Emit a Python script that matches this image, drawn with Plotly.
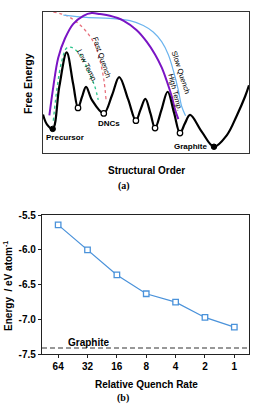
import plotly.graph_objects as go

W, H = 253, 404
FONT = "Liberation Sans, Arial, sans-serif"
SERIF = "Liberation Serif, Times New Roman, serif"

# ---------------- panel (a): schematic free-energy landscape (arbitrary units 0-100) ----------
land_x = [0, 1.9, 4.7, 7.9, 11.5, 14.6, 17.0, 18.9, 20.9, 23.8, 29.5, 33.5, 37.0, 41.3, 45.1, 47.3,
          49.7, 52.2, 54.4, 57.5, 60.5, 63.6, 66.5, 68.9, 71.4, 77.2, 83.0, 89.2, 94.0, 98.1, 100]
land_y = [27, 20.0, 16.8, 46.7, 71.2, 49.0, 31.7, 39.3, 46.7, 37.2, 27.8, 40.7, 53.6, 37.9, 22.6, 30.3,
          38.1, 27.6, 17.4, 30.3, 43.2, 28.3, 13.8, 20.7, 26.7, 14.5, 4.1, 12.2, 26.0, 39.8, 47.8]

open_min_x = [17.0, 29.5, 45.1, 54.4, 66.5]
open_min_y = [31.7, 27.8, 22.6, 17.4, 13.8]
stable_x = [4.7, 83.0]
stable_y = [16.8, 4.1]

high_x = [3.1, 5.0, 7.4, 10.7, 14.7, 19.6, 23.6, 27.7, 32.5, 39.0, 45.5, 50.3, 54.4, 57.6, 60.0, 62.5, 64.1, 65.7]
high_y = [26.4, 46.7, 67.4, 81.2, 91.5, 97.2, 99.1, 98.4, 97.2, 93.8, 86.9, 78.8, 69.7, 60.5, 51.2, 39.8, 30.6, 23.7]

slow_x = [9.9, 21.2, 32.5, 42.2, 48.7, 53.5, 57.6, 60.8, 63.3, 65.7, 67.3, 69.2]
slow_y = [97.7, 96.1, 95.4, 93.8, 90.3, 85.7, 78.8, 69.7, 58.1, 44.3, 32.9, 26.2]

fast_x = [5.0, 11.5, 16.4, 21.2, 25.2, 27.7, 29.6, 30.6]
fast_y = [100, 97.2, 92.6, 85.7, 76.6, 65.0, 51.2, 37.4]

low_x = [5.0, 6.9, 9.1, 11.5, 13.9, 18.0, 22.0, 25.2, 26.8]
low_y = [22.6, 46.7, 65.0, 74.3, 74.7, 69.7, 58.1, 46.7, 37.4]

# ---------------- panel (b): energy vs relative quench rate -----------------------------------
rates = ["64", "32", "16", "8", "4", "2", "1"]
energy = [-5.64, -6.00, -6.36, -6.63, -6.75, -6.97, -7.11]
graphite_energy = -7.41
y_ticks = [-5.5, -6.0, -6.5, -7.0, -7.5]
y_ticktext = ["-5.5", "-6.0", "-6.5", "-7.0", "-7.5"]

fig = go.Figure()

# panel a traces
fig.add_trace(go.Scatter(x=fast_x, y=fast_y, mode="lines", line=dict(color="#E8707C", width=1.3, dash="dot", shape="spline"),
                         xaxis="x", yaxis="y", showlegend=False, hoverinfo="skip"))
fig.add_trace(go.Scatter(x=low_x, y=low_y, mode="lines", line=dict(color="#2CC48C", width=1.3, dash="dot", shape="spline"),
                         xaxis="x", yaxis="y", showlegend=False, hoverinfo="skip"))
fig.add_trace(go.Scatter(x=slow_x, y=slow_y, mode="lines", line=dict(color="#6CB4EE", width=1.2, shape="spline"),
                         xaxis="x", yaxis="y", showlegend=False, hoverinfo="skip"))
fig.add_trace(go.Scatter(x=high_x, y=high_y, mode="lines", line=dict(color="#7A14C4", width=2.0, shape="spline"),
                         xaxis="x", yaxis="y", showlegend=False, hoverinfo="skip"))
fig.add_trace(go.Scatter(x=land_x, y=land_y, mode="lines", line=dict(color="black", width=2.2, shape="spline", smoothing=1.0),
                         xaxis="x", yaxis="y", showlegend=False, hoverinfo="skip"))
fig.add_trace(go.Scatter(x=open_min_x, y=open_min_y, mode="markers",
                         marker=dict(symbol="circle", size=5.5, color="white", line=dict(color="black", width=1.2)),
                         xaxis="x", yaxis="y", showlegend=False, hoverinfo="skip"))
fig.add_trace(go.Scatter(x=stable_x, y=stable_y, mode="markers",
                         marker=dict(symbol="circle", size=5.5, color="black", line=dict(color="black", width=1)),
                         xaxis="x", yaxis="y", showlegend=False, hoverinfo="skip"))

# panel b traces
fig.add_trace(go.Scatter(x=rates, y=energy, mode="lines+markers",
                         line=dict(color="#4A92DA", width=1.2),
                         marker=dict(symbol="square", size=5.5, color="white", line=dict(color="#4A92DA", width=1.3)),
                         xaxis="x2", yaxis="y2", showlegend=False))
fig.add_shape(type="line", xref="x2 domain", yref="y2", x0=0, x1=1, y0=graphite_energy, y1=graphite_energy,
              line=dict(color="#333333", width=1.1, dash="5px,3px"))

def px_x(p):
    return p / W

def px_y(p):
    return 1 - p / H

fig.update_layout(
    width=W, height=H, margin=dict(l=0, r=0, t=0, b=0),
    paper_bgcolor="white", plot_bgcolor="white",
    font=dict(family=FONT, color="black"),
    xaxis=dict(domain=[px_x(43), px_x(249)], range=[0, 100], showgrid=False, zeroline=False,
               showticklabels=False, ticks="", showline=True, mirror=True, linecolor="#333", linewidth=1.2),
    yaxis=dict(domain=[px_y(151), px_y(6)], range=[0, 100], showgrid=False, zeroline=False,
               showticklabels=False, ticks="", showline=True, mirror=True, linecolor="#333", linewidth=1.2),
    xaxis2=dict(domain=[px_x(42), px_x(249)], range=[-0.55, 6.5], type="category", anchor="y2",
                showgrid=False, zeroline=False, showline=True, mirror=True, linecolor="#222", linewidth=1.3,
                ticks="outside", ticklen=3, tickwidth=1, tickcolor="#222",
                tickfont=dict(family=FONT, size=10, color="black", weight="bold")),
    yaxis2=dict(domain=[px_y(359), px_y(215.5)], range=[-7.5, -5.5], anchor="x2",
                tickvals=y_ticks, ticktext=y_ticktext,
                showgrid=False, zeroline=False, showline=True, mirror=True, linecolor="#222", linewidth=1.3,
                ticks="outside", ticklen=3, tickwidth=1, tickcolor="#222",
                tickfont=dict(family=FONT, size=10, color="black", weight="bold")),
)

ann = []
def lab(text, x, y, size=8, angle=0, bold=False, xref="x", yref="y", family=FONT, color="black"):
    ann.append(dict(text=(f"<b>{text}</b>" if bold else text), x=x, y=y, xref=xref, yref=yref,
                    showarrow=False, textangle=angle, font=dict(family=family, size=size, color=color),
                    xanchor="center", yanchor="middle"))

# panel a curve labels
lab("Fast Quench", 28.5, 67.4, size=7.5, angle=71)
lab("Low Temp.", 21.2, 61.6, size=7.5, angle=63)
lab("Slow Quench", 66.8, 56.6, size=7.5, angle=72)
lab("High Temp.", 64.2, 42.6, size=7.5, angle=76)
lab("Precursor", 10.7, 11.0, size=8, bold=True)
lab("DNCs", 32.2, 20.9, size=8, bold=True)
lab("Graphite", 71.4, 4.1, size=8, bold=True)
# panel a titles
lab("Free Energy", px_x(27.5), px_y(80), size=10.5, angle=-90, bold=True, xref="paper", yref="paper")
lab("Structural Order", px_x(146), px_y(170), size=10, bold=True, xref="paper", yref="paper")
lab("(a)", px_x(124), px_y(185), size=10, bold=True, xref="paper", yref="paper", family=SERIF)
# panel b labels
lab("Graphite", 1.05, graphite_energy + 0.08, size=10, bold=True, xref="x2", yref="y2")
lab("Energy  / eV atom<sup>-1</sup>", px_x(8.5), px_y(289), size=10, angle=-90, bold=True, xref="paper", yref="paper")
lab("Relative Quench Rate", px_x(146.5), px_y(390.5), size=10, bold=True, xref="paper", yref="paper")
lab("(b)", px_x(123), px_y(404), size=10, bold=True, xref="paper", yref="paper", family=SERIF)

fig.update_layout(annotations=ann)
fig.write_html("out.html")
